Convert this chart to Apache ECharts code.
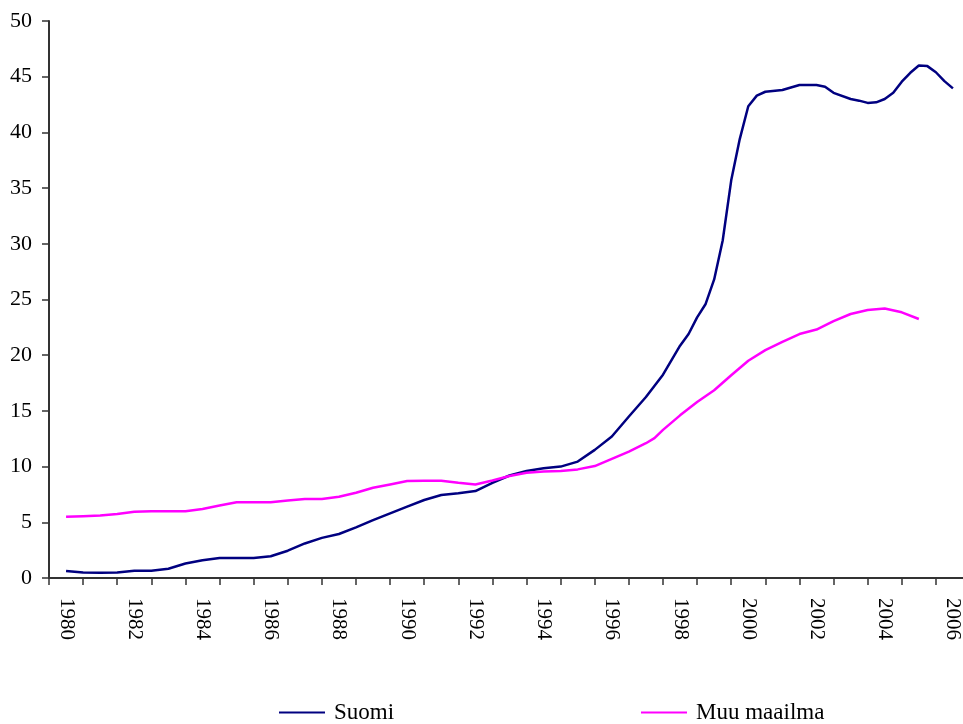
<!DOCTYPE html>
<html>
<head>
<meta charset="utf-8">
<script src="https://cdn.jsdelivr.net/npm/echarts@6/dist/echarts.min.js"></script>
<style>html,body{margin:0;padding:0;background:#fff;overflow:hidden;}#c{width:963px;height:724px;}</style>
</head>
<body>
<div id="c"></div>
<script>
var years = [];
for (var y = 1980; y <= 2006; y++) years.push(String(y));

var yTicks = [0, 5, 10, 15, 20, 25, 30, 35, 40, 45, 50];

var suomiPeriods = [1980.5,1981,1981.5,1982,1982.5,1983,1983.5,1984,1984.5,1985,1985.5,1986,1986.5,1987,1987.5,1988,1988.5,1989,1989.5,1990,1990.5,1991,1991.5,1992,1992.5,1993,1993.5,1994,1994.5,1995,1995.5,1996,1996.5,1997,1997.5,1998,1998.5,1998.75,1999,1999.25,1999.5,1999.75,2000,2000.25,2000.5,2000.75,2001,2001.5,2002,2002.5,2002.75,2003,2003.5,2003.75,2004,2004.25,2004.5,2004.75,2005,2005.25,2005.5,2005.75,2006,2006.25,2006.5];
var suomiValues = [0.63,0.5,0.48,0.5,0.65,0.65,0.83,1.3,1.6,1.8,1.8,1.8,1.95,2.45,3.1,3.6,3.95,4.55,5.2,5.8,6.4,7.0,7.45,7.6,7.8,8.55,9.2,9.6,9.85,10.0,10.45,11.5,12.7,14.5,16.25,18.25,20.85,21.9,23.4,24.6,26.8,30.3,35.7,39.4,42.35,43.3,43.65,43.8,44.25,44.25,44.1,43.55,43.0,42.85,42.65,42.7,43.0,43.55,44.55,45.35,46.0,45.95,45.4,44.6,43.95];

var muuPeriods = [1980.5,1981,1981.5,1982,1982.5,1983,1983.5,1984,1984.5,1985,1985.5,1986,1986.5,1987,1987.5,1988,1988.5,1989,1989.5,1990,1990.5,1991,1991.5,1992,1992.5,1993,1993.5,1994,1994.5,1995,1995.5,1996,1996.5,1997,1997.5,1997.75,1998,1998.5,1999,1999.5,2000,2000.5,2001,2001.5,2002,2002.5,2003,2003.5,2004,2004.5,2005,2005.5];
var muuValues = [5.5,5.55,5.6,5.75,5.95,6.0,6.0,6.0,6.2,6.5,6.8,6.8,6.8,6.95,7.1,7.1,7.3,7.65,8.1,8.4,8.7,8.73,8.73,8.55,8.4,8.75,9.15,9.45,9.55,9.6,9.75,10.05,10.7,11.35,12.1,12.55,13.3,14.6,15.8,16.85,18.2,19.5,20.45,21.2,21.9,22.3,23.05,23.7,24.05,24.2,23.85,23.25];

function pairs(xs, vs) { return xs.map(function (x, i) { return [x, vs[i]]; }); }

var font = "'Liberation Serif', 'Times New Roman', serif";
var legendText = { fontFamily: font, fontSize: 23, color: '#000', padding: [0, 0, 0, 4] };
var chart = echarts.init(document.getElementById('c'));
chart.setOption({
  animation: false,
  backgroundColor: '#fff',
  grid: { left: 49, width: 921, top: 21, height: 557, containLabel: false, outerBoundsMode: 'none' },
  legend: [
    { data: ['Suomi'], left: 279, top: 701, padding: 0, icon: 'rect', itemWidth: 46, itemHeight: 2, itemGap: 0,
      textStyle: legendText },
    { data: ['Muu maailma'], left: 641, top: 701, padding: 0, icon: 'rect', itemWidth: 46, itemHeight: 2, itemGap: 0,
      textStyle: legendText }
  ],
  xAxis: [
    { type: 'category', data: years, boundaryGap: true,
      axisLine: { show: true, lineStyle: { color: '#333', width: 2 } },
      axisTick: { show: true, interval: 0, length: 7, lineStyle: { color: '#333', width: 1.5 } },
      axisLabel: { interval: 1, rotate: -90, margin: 20, fontFamily: font, fontSize: 21, color: '#000' },
      splitLine: { show: false } },
    { type: 'value', min: 1980, max: 2007, show: false, splitLine: { show: false } }
  ],
  yAxis: {
    type: 'value', min: yTicks[0], max: yTicks[yTicks.length - 1], interval: 5,
    axisLine: { show: true, lineStyle: { color: '#333', width: 2 } },
    axisTick: { show: true, length: 7, lineStyle: { color: '#333', width: 1.5 } },
    axisLabel: { margin: 17, fontFamily: font, fontSize: 22, color: '#000' },
    splitLine: { show: false }
  },
  series: [
    { name: 'Suomi', type: 'line', xAxisIndex: 1, data: pairs(suomiPeriods, suomiValues),
      showSymbol: false, symbol: 'none', color: '#000080', lineStyle: { color: '#000080', width: 2.5 } },
    { name: 'Muu maailma', type: 'line', xAxisIndex: 1, data: pairs(muuPeriods, muuValues),
      showSymbol: false, symbol: 'none', color: '#FF00FF', lineStyle: { color: '#FF00FF', width: 2.5 } }
  ]
});
</script>
</body>
</html>
